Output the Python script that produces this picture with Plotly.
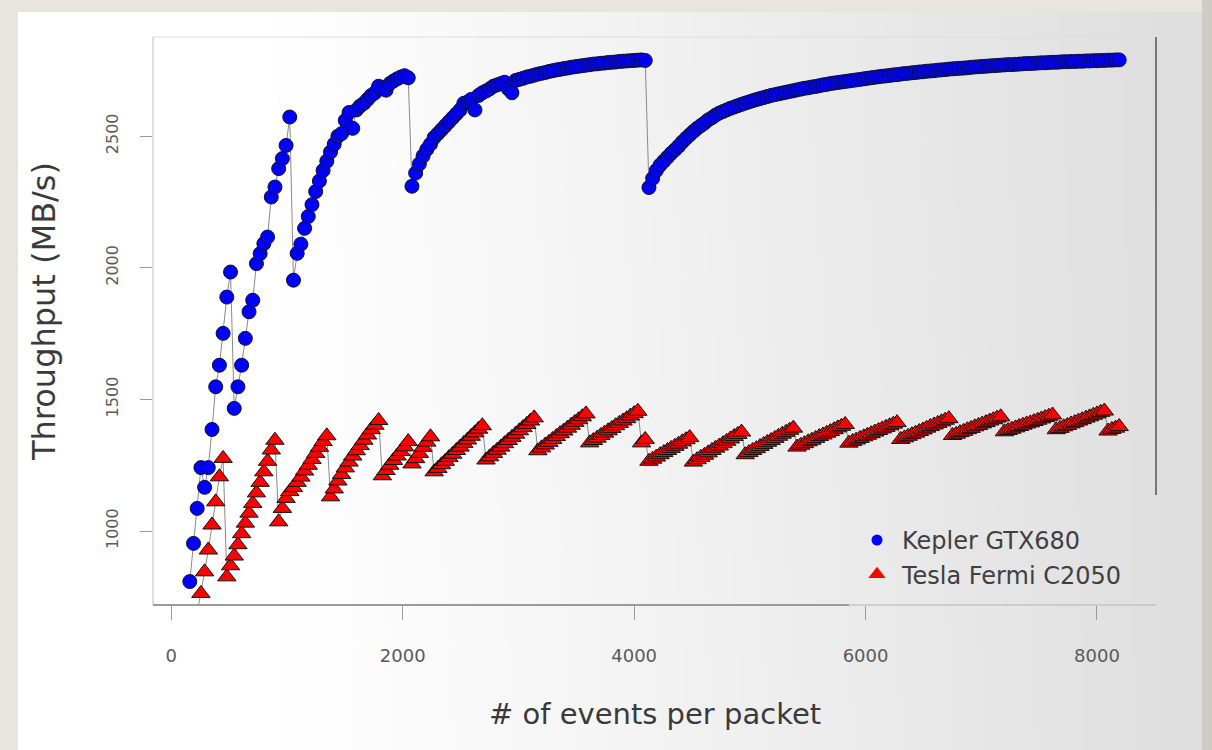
import base64
import struct
import zlib

import plotly.graph_objects as go

# ---------------- data ----------------
STEP = 32  # events per packet grid step

# Kepler GTX680 throughput (MB/s), events per packet 160 .. 8192
kepler_start = 160
kepler_160_512 = [808, 953, 1086, 1241, 1166, 1241, 1386, 1548, 1630, 1751, 1889, 1984]
kepler_544_1024 = [1466, 1548, 1630, 1732, 1833, 1877, 2016, 2054, 2092, 2117, 2269, 2307,
                   2377, 2415, 2465, 2573]
kepler_1056_2048 = [1953, 2055, 2090, 2150, 2195, 2240, 2290, 2330, 2370, 2405, 2440, 2470,
                    2500, 2510, 2560, 2590, 2530, 2600, 2615, 2625, 2640, 2655, 2665, 2690,
                    2680, 2675, 2700, 2710, 2718, 2725, 2730, 2722]
kepler_2080_4096 = [2310, 2360, 2395, 2425, 2450, 2470, 2495, 2510, 2525, 2540,
                    2555, 2570, 2585, 2600, 2625, 2630, 2640, 2600, 2655, 2665,
                    2672, 2680, 2690, 2695, 2700, 2705, 2680, 2665, 2712, 2716,
                    2720, 2725, 2728, 2732, 2736, 2739, 2742, 2746, 2749, 2752,
                    2754, 2757, 2759, 2762, 2764, 2766, 2768, 2770, 2772, 2774,
                    2775, 2777, 2778, 2780, 2781, 2782, 2784, 2785, 2786, 2787,
                    2788, 2789, 2790, 2788]
kepler_4128_8192 = [2305, 2340, 2370, 2390, 2405, 2420, 2435, 2448, 2462, 2478,
                    2492, 2505, 2518, 2530, 2540, 2550, 2562, 2570, 2580, 2588,
                    2594, 2600, 2606, 2611, 2616, 2621, 2626, 2630, 2635, 2639,
                    2643, 2647, 2651, 2655, 2658, 2661, 2664, 2667, 2670, 2673,
                    2676, 2679, 2682, 2684, 2687, 2689, 2692, 2695, 2697, 2700,
                    2702, 2704, 2706, 2708, 2710, 2712, 2714, 2716, 2718, 2720,
                    2722, 2724, 2726, 2728, 2729, 2731, 2733, 2734, 2736, 2738,
                    2739, 2741, 2742, 2744, 2745, 2747, 2748, 2749, 2751, 2752,
                    2753, 2755, 2756, 2757, 2758, 2759, 2760, 2762, 2763, 2764,
                    2765, 2766, 2767, 2768, 2769, 2770, 2771, 2772, 2772, 2773,
                    2774, 2775, 2776, 2776, 2777, 2778, 2779, 2779, 2780, 2781,
                    2781, 2782, 2783, 2783, 2784, 2784, 2785, 2785, 2786, 2786,
                    2787, 2787, 2788, 2788, 2789, 2789, 2790, 2790]

# Tesla Fermi C2050 throughput (MB/s), events per packet 224 .. 8192 (sawtooth)
fermi_start = 224
fermi_224_448 = [690, 763, 845, 928, 1023, 1111, 1206, 1276]
fermi_480_896 = [826, 868, 905, 948, 990, 1030, 1068, 1105, 1145, 1185, 1225, 1265, 1308, 1345]
fermi_928_1344 = [1035, 1086, 1124, 1150, 1165, 1185, 1205, 1228, 1250, 1272, 1295, 1318, 1340, 1362]
fermi_1376_1792 = [1130, 1160, 1190, 1215, 1240, 1262, 1285, 1305, 1325, 1345, 1365, 1385, 1402, 1420]
fermi_1824_2048 = [1210, 1230, 1250, 1268, 1285, 1302, 1320, 1340]
fermi_2080_2240 = [1255, 1275, 1295, 1318, 1338, 1358]
fermi_2272_2688 = [1225, 1238, 1252, 1265, 1279, 1292, 1306, 1319, 1333, 1346, 1360, 1373, 1387, 1400]
fermi_2720_3136 = [1270, 1282, 1295, 1307, 1319, 1332, 1344, 1356, 1368, 1381, 1393, 1405, 1418, 1430]
fermi_3168_3584 = [1305, 1316, 1327, 1337, 1348, 1359, 1370, 1380, 1391, 1402, 1413, 1423, 1434, 1445]
fermi_3616_4032 = [1335, 1344, 1353, 1363, 1372, 1381, 1390, 1400, 1409, 1418, 1427, 1437, 1446, 1455]
fermi_4064_4480 = [1335, 1348, 1265, 1273, 1281, 1290, 1298, 1306, 1314, 1322, 1330, 1339, 1347, 1355]
fermi_4512_4928 = [1262, 1271, 1280, 1288, 1297, 1306, 1315, 1323, 1332, 1341, 1350, 1359, 1367, 1376]
fermi_4960_5376 = [1290, 1298, 1306, 1313, 1321, 1329, 1337, 1344, 1352, 1360, 1368, 1375, 1383, 1391]
fermi_5408_5824 = [1319, 1326, 1332, 1339, 1345, 1352, 1359, 1365, 1372, 1378, 1385, 1392, 1398, 1405]
fermi_5856_6272 = [1334, 1340, 1346, 1352, 1358, 1364, 1370, 1376, 1382, 1388, 1394, 1400, 1406, 1412]
fermi_6304_6720 = [1348, 1354, 1360, 1366, 1372, 1378, 1384, 1391, 1397, 1403, 1409, 1415, 1421, 1427]
fermi_6752_7168 = [1363, 1368, 1374, 1379, 1385, 1390, 1396, 1401, 1407, 1412, 1418, 1423, 1429, 1434]
fermi_7200_7616 = [1377, 1382, 1387, 1392, 1397, 1402, 1407, 1411, 1416, 1421, 1426, 1431, 1436, 1441]
fermi_7648_8064 = [1385, 1390, 1396, 1401, 1407, 1412, 1418, 1423, 1429, 1434, 1440, 1445, 1451, 1456]
fermi_8096_8192 = [1380, 1386, 1391, 1397]

x_ticks = [0, 2000, 4000, 6000, 8000]
y_ticks = [1000, 1500, 2000, 2500]
series_names = ["Kepler GTX680", "Tesla Fermi C2050"]
x_title = "# of events per packet"
y_title = "Throughput (MB/s)"

kepler_mbps = (kepler_160_512 + kepler_544_1024 + kepler_1056_2048
               + kepler_2080_4096 + kepler_4128_8192)
fermi_mbps = (fermi_224_448 + fermi_480_896 + fermi_928_1344 + fermi_1376_1792
              + fermi_1824_2048 + fermi_2080_2240 + fermi_2272_2688 + fermi_2720_3136
              + fermi_3168_3584 + fermi_3616_4032 + fermi_4064_4480 + fermi_4512_4928
              + fermi_4960_5376 + fermi_5408_5824 + fermi_5856_6272 + fermi_6304_6720
              + fermi_6752_7168 + fermi_7200_7616 + fermi_7648_8064 + fermi_8096_8192)
kepler_events = list(range(kepler_start, kepler_start + STEP * len(kepler_mbps), STEP))
fermi_events = list(range(fermi_start, fermi_start + STEP * len(fermi_mbps), STEP))
assert kepler_events[-1] == 8192, kepler_events[-1]
assert fermi_events[-1] == 8192, fermi_events[-1]


# ---------------- background panel (white -> grey gradient) ----------------
def gradient_png(w, h):
    raw = bytearray()
    for j in range(h):
        raw.append(0)
        for i in range(w):
            X = 18 + (1202 - 18) * (i + 0.5) / w
            Y = 12 + (750 - 12) * (j + 0.5) / h
            u = max(0.0, min(1.0, (X - 260) / 940))
            v = (Y - 12) / 738
            g = 255 - 33 * (u ** 1.15) - 8 * (1 - v) * u * (1 - u)
            g = int(max(0, min(255, round(g))))
            raw += bytes((g, g, g))

    def chunk(t, d):
        c = struct.pack(">I", len(d)) + t + d
        return c + struct.pack(">I", zlib.crc32(t + d) & 0xFFFFFFFF)

    png = (b"\x89PNG\r\n\x1a\n"
           + chunk(b"IHDR", struct.pack(">IIBBBBB", w, h, 8, 2, 0, 0, 0))
           + chunk(b"IDAT", zlib.compress(bytes(raw), 9))
           + chunk(b"IEND", b""))
    return "data:image/png;base64," + base64.b64encode(png).decode()


W, H = 1212, 750
L, R, T, B = 153, 56, 37, 145
PW, PH = W - L - R, H - T - B


def px(xp):
    return (xp - L) / PW


def py(yp):
    return (H - B - yp) / PH


fig = go.Figure()

fig.add_trace(go.Scatter(
    x=kepler_events, y=kepler_mbps, mode="lines+markers", showlegend=False,
    line=dict(color="#8a8a8a", width=1),
    marker=dict(symbol="circle", size=14, color="#0000ff",
                line=dict(color="#101030", width=1)),
))
fig.add_trace(go.Scatter(
    x=fermi_events, y=fermi_mbps, mode="lines+markers", showlegend=False,
    line=dict(color="#8a8a8a", width=1),
    marker=dict(symbol="triangle-up", size=16, color="#ff0000",
                line=dict(color="#101010", width=1)),
))
# legend entries
fig.add_trace(go.Scatter(
    x=[None], y=[None], mode="markers", name=series_names[0],
    marker=dict(symbol="circle", size=11, color="#0000ff"),
))
fig.add_trace(go.Scatter(
    x=[None], y=[None], mode="markers", name=series_names[1],
    marker=dict(symbol="triangle-up", size=15, color="#ff0000"),
))

shapes = [
    # frame shadow on right
    dict(type="rect", xref="paper", yref="paper", x0=px(1202), x1=px(1212),
         y0=py(750), y1=py(0), fillcolor="#cfcbc5", line=dict(width=0), layer="below"),
    # plot box
    dict(type="line", xref="paper", yref="paper", x0=0, x1=0, y0=0, y1=1,
         line=dict(color="#bdbdbd", width=1)),
    dict(type="line", xref="paper", yref="paper", x0=0, x1=1, y0=1, y1=1,
         line=dict(color="#dedede", width=1)),
    dict(type="line", xref="paper", yref="paper", x0=1, x1=1, y0=py(495), y1=1,
         line=dict(color="#777777", width=2)),
    dict(type="line", xref="paper", yref="paper", x0=0, x1=px(849), y0=0, y1=0,
         line=dict(color="#9a9a9a", width=2)),
    dict(type="line", xref="paper", yref="paper", x0=px(849), x1=1, y0=0, y1=0,
         line=dict(color="#b4b4b4", width=1)),
]

annotations = [
    dict(text=x_title, xref="paper", yref="paper", x=px(655), y=py(714),
         xanchor="center", yanchor="middle", showarrow=False,
         font=dict(family="DejaVu Sans", size=29, color="#3a3a3a")),
    dict(text=y_title, xref="paper", yref="paper", x=px(44), y=py(312),
         xanchor="center", yanchor="middle", showarrow=False, textangle=-90,
         font=dict(family="DejaVu Sans", size=32, color="#3a3a3a")),
]

fig.update_layout(
    width=W, height=H, autosize=False,
    margin=dict(l=L, r=R, t=T, b=B, pad=0),
    paper_bgcolor="#e8e4de",
    plot_bgcolor="rgba(0,0,0,0)",
    images=[dict(source=gradient_png(296, 60), xref="paper", yref="paper",
                 x=px(18), y=py(12), sizex=px(1202) - px(18), sizey=py(12) - py(750),
                 xanchor="left", yanchor="top", sizing="stretch", layer="below")],
    shapes=shapes,
    annotations=annotations,
    showlegend=True,
    legend=dict(x=px(852), y=py(518), xanchor="left", yanchor="top",
                bgcolor="rgba(0,0,0,0)", itemwidth=40,
                font=dict(family="DejaVu Sans", size=24, color="#404040")),
    xaxis=dict(range=[-158, 8510], tickmode="array", tickvals=x_ticks,
               ticktext=[str(v) for v in x_ticks],
               showgrid=False, zeroline=False, showline=False,
               ticks="outside", ticklen=14, tickcolor="#9a9a9a", tickwidth=1,
               ticklabelstandoff=20,
               tickfont=dict(family="DejaVu Sans", size=18, color="#5a5a5a")),
    yaxis=dict(range=[719, 2877], tickmode="array", tickvals=y_ticks,
               ticktext=[str(v) for v in y_ticks],
               showgrid=False, zeroline=False, showline=False,
               ticks="outside", ticklen=12, tickcolor="#9a9a9a", tickwidth=1,
               tickangle=-90, ticklabelstandoff=16,
               tickfont=dict(family="DejaVu Sans", size=16, color="#5a5a5a")),
)

fig.write_html("out.html", config={"displayModeBar": False})
